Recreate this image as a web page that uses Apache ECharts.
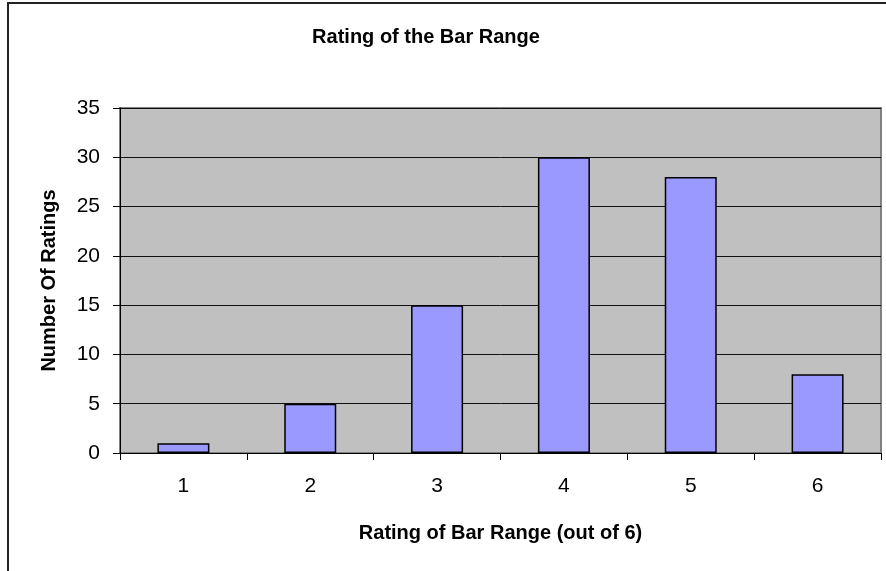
<!DOCTYPE html>
<html>
<head>
<meta charset="utf-8">
<script src="https://cdn.jsdelivr.net/npm/echarts@6/dist/echarts.min.js"></script>
<style>
  html, body { margin: 0; padding: 0; background: #fff; }
  #main { width: 886px; height: 571px; }
</style>
</head>
<body>
<div id="main"></div>
<script>
// ratings 1..6 and how many times each was given
const ratings = ["1", "2", "3", "4", "5", "6"];
const counts = [1, 5, 15, 30, 28, 8];
const yTicks = { min: 0, max: 35, step: 5 };

const FONT = "'Liberation Sans', Arial, sans-serif";

const myChart = echarts.init(document.getElementById("main"));
const option = {
  backgroundColor: "#fff",
  animation: false,
  title: {
    text: "Rating of the Bar Range",
    left: 426,
    top: 27,
    padding: 0,
    textAlign: "center",
    textStyle: {
      fontFamily: FONT,
      fontSize: 20,
      fontWeight: "bold",
      color: "#000",
    },
  },
  // outer chart frame (only top + left edges are inside the picture)
  graphic: [
    {
      type: "rect",
      shape: { x: 8, y: 3, width: 1000, height: 1000 },
      style: { fill: "none", stroke: "#222", lineWidth: 2 },
      silent: true,
    },
  ],
  grid: {
    left: 120,
    right: 5,
    top: 108,
    bottom: 118,
    show: true,
    backgroundColor: "#C0C0C0",
    borderColor: "#808080",
    borderWidth: 2,
  },
  xAxis: {
    type: "category",
    data: ratings,
    name: "Rating of Bar Range (out of 6)",
    nameLocation: "middle",
    nameGap: 70,
    nameTextStyle: {
      fontFamily: FONT,
      fontSize: 20,
      fontWeight: "bold",
      color: "#000",
      verticalAlign: "top",
    },
    axisLine: { show: true, lineStyle: { color: "#000", width: 1 } },
    axisTick: { show: true, length: 7, lineStyle: { color: "#000" } },
    axisLabel: {
      margin: 23,
      fontFamily: FONT,
      fontSize: 21,
      color: "#000",
    },
    splitLine: { show: false },
  },
  yAxis: {
    type: "value",
    min: yTicks.min,
    max: yTicks.max,
    interval: yTicks.step,
    name: "Number Of Ratings",
    nameLocation: "middle",
    nameGap: 61,
    nameTextStyle: {
      fontFamily: FONT,
      fontSize: 20,
      fontWeight: "bold",
      color: "#000",
    },
    axisLine: { show: true, lineStyle: { color: "#000", width: 1 } },
    axisTick: { show: true, length: 7, lineStyle: { color: "#000" } },
    axisLabel: {
      margin: 20,
      fontFamily: FONT,
      fontSize: 21,
      color: "#000",
    },
    splitLine: { show: true, lineStyle: { color: "#111", width: 1 } },
  },
  series: [
    {
      type: "bar",
      data: counts,
      barWidth: 52,
      itemStyle: {
        color: "#9999FF",
        borderColor: "#000",
        borderWidth: 1.5,
      },
    },
  ],
};
myChart.setOption(option);
</script>
</body>
</html>
